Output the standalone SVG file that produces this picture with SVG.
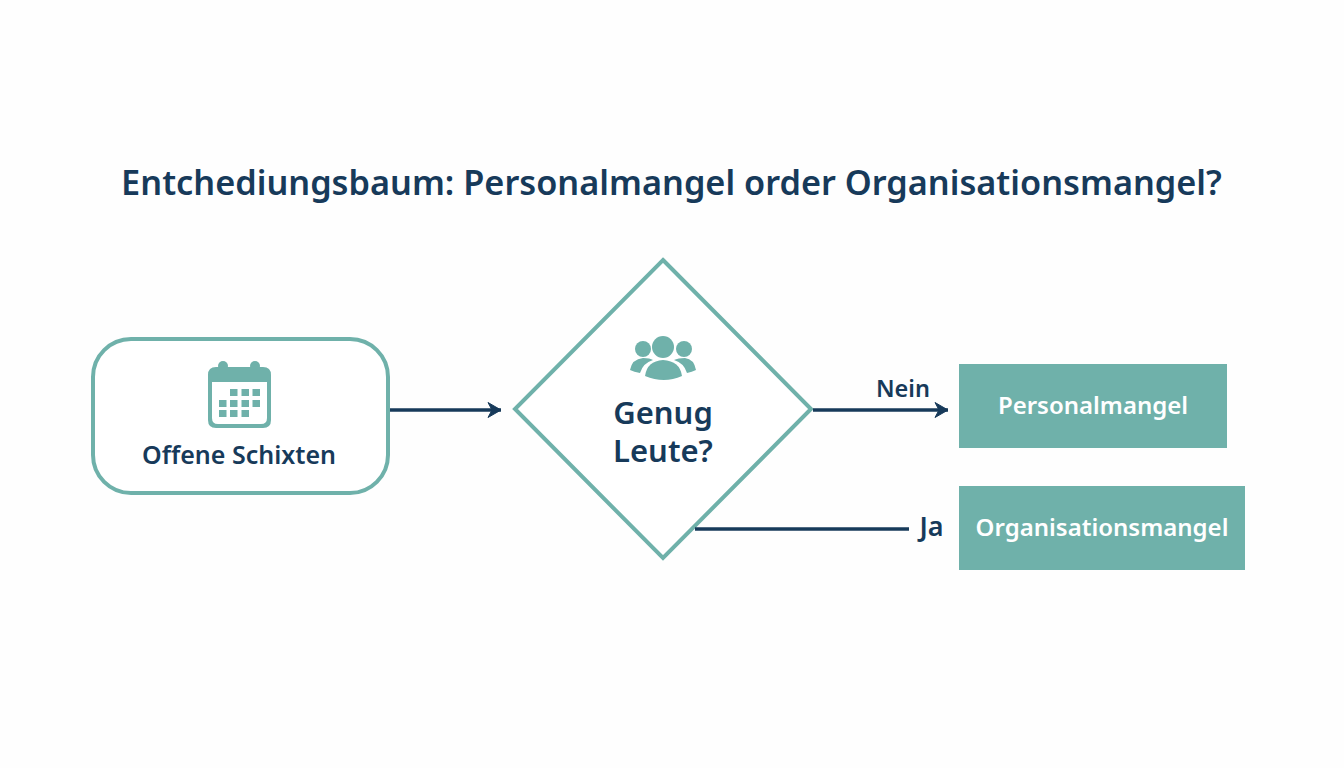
<svg xmlns="http://www.w3.org/2000/svg" width="1344" height="768" viewBox="0 0 1344 768">
<style>
text{font-family:"Noto Sans","Open Sans","Liberation Sans",sans-serif;font-weight:600;fill:#173a5a;text-anchor:middle}
.teal{fill:#6fb1aa}
.node{fill:#fff;stroke:#6fb1aa;stroke-width:4}
.line{stroke:#173a5a;stroke-width:3.500;fill:none}
.wt{fill:#fff;font-size:24px}
</style>
<defs>
<marker id="arr" markerUnits="userSpaceOnUse" markerWidth="18" markerHeight="20" refX="15" refY="9" orient="auto">
<path d="M2 1.500L15 9L2 16.500L6 9Z" fill="#173a5a" stroke="#173a5a" stroke-width="1"/>
</marker>
</defs>
<rect width="1344" height="768" fill="#fefefe"/>
<text id="title" x="671.500" y="195" font-size="34.300">Entchediungsbaum: Personalmangel order Organisationsmangel?</text>
<g id="node-schichten">
<rect class="node" x="93" y="339" width="295" height="154" rx="38"/>
<g class="teal">
<circle cx="223" cy="366" r="5"/><circle cx="255" cy="366" r="5"/>
<path fill-rule="evenodd" d="M216 367H263Q271 367 271 375V420Q271 428 263 428H216Q208 428 208 420V375Q208 367 216 367ZM212 382V418Q212 424 218 424H261Q267 424 267 418V382Z"/>
<path d="M230 389h7.500v7h-7.500zM241.500 389h7.500v7h-7.500zM252.500 389h7.500v7h-7.500zM219 400h7.500v7h-7.500zM230 400h7.500v7h-7.500zM241.500 400h7.500v7h-7.500zM252.500 400h7.500v7h-7.500zM219 410h7.500v7h-7.500zM230 410h7.500v7h-7.500zM241.500 410h7.500v7h-7.500z"/>
</g>
<text x="239" y="464" font-size="25">Offene Schixten</text>
</g>
<g id="node-genug">
<polygon class="node" points="663,260 811,409 663,558 515,409"/>
<g class="teal">
<circle cx="663" cy="347" r="11"/><circle cx="643" cy="349" r="8"/><circle cx="684" cy="349" r="8"/>
<path d="M630 370Q632 359 643 358Q650 358 653 360Q643 363 640 373Q634 372 630 370Z"/>
<path d="M696 370Q694 359 685 358Q678 358 674 360Q684 363 687 373Q692 372 696 370Z"/>
<path d="M645 376Q647 361 663 360Q680 361 682 376Q664 384 645 376Z"/>
</g>
<text x="663" y="424" font-size="31">Genug</text>
<text x="663" y="462" font-size="31">Leute?</text>
</g>
<g id="node-personal">
<rect class="teal" x="959" y="364" width="268" height="84"/>
<text class="wt" x="1093" y="414">Personalmangel</text>
</g>
<g id="node-organisation">
<rect class="teal" x="959" y="486" width="286" height="84"/>
<text class="wt" x="1102" y="536">Organisationsmangel</text>
</g>
<g id="connectors">
<line class="line" x1="390" y1="410" x2="501" y2="410" marker-end="url(#arr)"/>
<line class="line" x1="813" y1="410" x2="948" y2="410" marker-end="url(#arr)"/>
<line class="line" x1="695" y1="529" x2="909" y2="529"/>
<text x="903" y="397" font-size="23.500">Nein</text>
<text x="931.500" y="536" font-size="27">Ja</text>
</g>
</svg>
